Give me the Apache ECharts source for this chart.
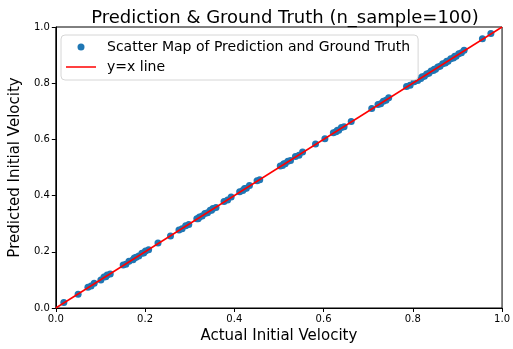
<!DOCTYPE html>
<html>
<head>
<meta charset="utf-8">
<script src="https://cdn.jsdelivr.net/npm/echarts@6/dist/echarts.min.js"></script>
<style>
  html, body { margin: 0; padding: 0; background: #fff; }
  #chart { width: 513px; height: 349px; }
</style>
</head>
<body>
<div id="chart"></div>
<script>
// actual initial velocity (x) and predicted (y)
var actual = [
  0.018, 0.050, 0.072, 0.079, 0.086, 0.101, 0.108, 0.112, 0.115, 0.122,
  0.151, 0.157, 0.164, 0.173, 0.176, 0.180, 0.186, 0.193, 0.197, 0.201,
  0.208, 0.229, 0.257, 0.276, 0.283, 0.291, 0.298, 0.316, 0.319, 0.322,
  0.328, 0.334, 0.340, 0.346, 0.349, 0.352, 0.359, 0.377, 0.385, 0.393,
  0.412, 0.419, 0.423, 0.427, 0.434, 0.451, 0.457, 0.503, 0.508, 0.511,
  0.514, 0.520, 0.526, 0.537, 0.545, 0.553, 0.582, 0.603, 0.622, 0.628,
  0.631, 0.634, 0.640, 0.646, 0.662, 0.708, 0.722, 0.728, 0.734, 0.740,
  0.746, 0.786, 0.794, 0.803, 0.811, 0.816, 0.818, 0.821, 0.826, 0.831,
  0.836, 0.841, 0.846, 0.848, 0.851, 0.856, 0.861, 0.867, 0.873, 0.876,
  0.879, 0.885, 0.891, 0.894, 0.897, 0.903, 0.909, 0.915, 0.956, 0.975
];
var predicted = [
  0.020, 0.049, 0.074, 0.078, 0.088, 0.100, 0.110, 0.111, 0.117, 0.121,
  0.153, 0.156, 0.166, 0.172, 0.178, 0.181, 0.185, 0.195, 0.196, 0.203,
  0.207, 0.231, 0.256, 0.278, 0.282, 0.293, 0.297, 0.318, 0.318, 0.324,
  0.327, 0.336, 0.339, 0.348, 0.348, 0.354, 0.358, 0.379, 0.384, 0.395,
  0.414, 0.418, 0.425, 0.426, 0.436, 0.453, 0.456, 0.505, 0.507, 0.513,
  0.513, 0.522, 0.525, 0.539, 0.544, 0.555, 0.584, 0.602, 0.624, 0.627,
  0.633, 0.633, 0.642, 0.645, 0.664, 0.710, 0.724, 0.727, 0.736, 0.739,
  0.748, 0.788, 0.793, 0.805, 0.810, 0.818, 0.817, 0.823, 0.825, 0.833,
  0.835, 0.843, 0.845, 0.850, 0.850, 0.858, 0.860, 0.869, 0.872, 0.878,
  0.878, 0.887, 0.890, 0.896, 0.896, 0.905, 0.908, 0.917, 0.958, 0.977
];
var lineX = [0, 1];

var points = actual.map(function (v, i) { return [v, predicted[i]]; });
var linePts = lineX.map(function (v) { return [v, v]; });

var font = 'DejaVu Sans';
var chart = echarts.init(document.getElementById('chart'));
chart.setOption({
  animation: false,
  textStyle: { fontFamily: font, color: '#000' },
  title: {
    text: 'Prediction & Ground Truth (n_sample=100)',
    left: 280, top: 4, textAlign: 'center',
    textStyle: { fontFamily: font, fontSize: 18, fontWeight: 'normal', color: '#000' }
  },
  legend: {
    left: 61, top: 35, orient: 'vertical',
    backgroundColor: '#fff', borderColor: '#d6d6d6', borderWidth: 1, borderRadius: 4,
    padding: [4, 8, 5, 5], itemGap: 4, itemWidth: 30, itemHeight: 7,
    symbolKeepAspect: true,
    textStyle: { fontFamily: font, fontSize: 14, color: '#000', lineHeight: 16, padding: [0, 0, 0, 6] },
    data: [
      { name: 'Scatter Map of Prediction and Ground Truth', icon: 'circle' },
      { name: 'y=x line', icon: 'path://M0,0L30,0L30,1.5L0,1.5Z', itemStyle: { color: '#ff0000' } }
    ]
  },
  grid: { left: 53, right: 5, top: 27, bottom: 41, show: true, borderColor: '#000', borderWidth: 1 },
  xAxis: {
    type: 'value', min: 0, max: 1, interval: 0.2,
    name: 'Actual Initial Velocity', nameLocation: 'middle', nameGap: 20,
    nameTextStyle: { fontFamily: font, fontSize: 15, color: '#000' },
    axisLine: { lineStyle: { color: '#000' } },
    axisTick: { length: 4, lineStyle: { color: '#000' } },
    axisLabel: { fontSize: 10, color: '#000', margin: 6,
      formatter: function (v) { return v.toFixed(1); } },
    splitLine: { show: false }
  },
  yAxis: {
    type: 'value', min: 0, max: 1, interval: 0.2,
    name: 'Predicted Initial Velocity', nameLocation: 'middle', nameGap: 22,
    nameTextStyle: { fontFamily: font, fontSize: 15, color: '#000' },
    axisLine: { show: true, lineStyle: { color: '#000' } },
    axisTick: { show: true, length: 4, lineStyle: { color: '#000' } },
    axisLabel: { fontSize: 10, color: '#000', margin: 6,
      formatter: function (v) { return v.toFixed(1); } },
    splitLine: { show: false }
  },
  series: [
    {
      name: 'Scatter Map of Prediction and Ground Truth',
      type: 'scatter', data: points, symbolSize: 7,
      itemStyle: { color: '#1f77b4', opacity: 1 }, z: 2
    },
    {
      name: 'y=x line',
      type: 'line', data: linePts, symbol: 'none',
      lineStyle: { color: '#ff0000', width: 1.5 },
      itemStyle: { color: '#ff0000' }, z: 3
    }
  ]
});
</script>
</body>
</html>
